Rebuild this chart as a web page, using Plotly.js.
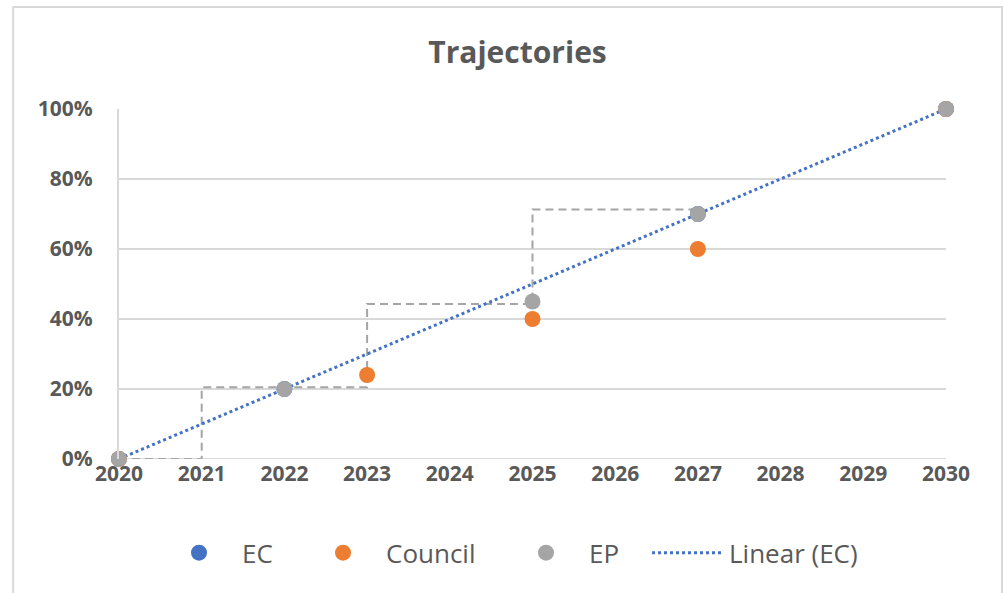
<!DOCTYPE html>
<html>
<head>
<meta charset="utf-8">
<script src="https://cdn.plot.ly/plotly-3.0.1.min.js"></script>
<style>html,body{margin:0;padding:0;background:#fff;}#chart{width:1005px;height:593px;}</style>
</head>
<body>
<div id="chart"></div>
<script>
const years = [2020,2021,2022,2023,2024,2025,2026,2027,2028,2029,2030];
const ecYears = [2020, 2022, 2027, 2030];
const ecValues = [0, 0.20, 0.70, 1.00];
const councilYears = [2020, 2023, 2025, 2027, 2030];
const councilValues = [0, 0.24, 0.40, 0.60, 1.00];
const epYears = [2020, 2022, 2025, 2027, 2030];
const epValues = [0, 0.20, 0.45, 0.70, 1.00];
const stepYears = [2020, 2021, 2021, 2023, 2023, 2025, 2025, 2027];
const stepValues = [0, 0, 0.205, 0.205, 0.443, 0.443, 0.713, 0.713];
const yTicks = [0, 0.2, 0.4, 0.6, 0.8, 1.0];

// linear least-squares trend of EC
const n = ecYears.length;
const mx = ecYears.reduce((a,b)=>a+b,0)/n;
const my = ecValues.reduce((a,b)=>a+b,0)/n;
let sxy=0, sxx=0;
for (let i=0;i<n;i++){ sxy += (ecYears[i]-mx)*(ecValues[i]-my); sxx += (ecYears[i]-mx)**2; }
const slope = sxy/sxx, icpt = my - slope*mx;
const trendX = [years[0], years[years.length-1]];
const trendY = trendX.map(x => icpt + slope*x);

const font = '"Open Sans", "Liberation Sans", sans-serif';
const grey = '#595959';

const traces = [
  {x: stepYears, y: stepValues, mode:'lines', line:{color:'#a5a5a5', width:2, dash:'8px,5px'}, showlegend:false, hoverinfo:'skip', cliponaxis:false},
  {x: trendX, y: trendY, mode:'lines', name:'Linear (EC)', line:{color:'#4472c4', width:3, dash:'dot'}, legend:'legend4', cliponaxis:false},
  {x: ecYears, y: ecValues, mode:'markers', name:'EC', marker:{color:'#4472c4', size:16}, legend:'legend', cliponaxis:false},
  {x: councilYears, y: councilValues, mode:'markers', name:'Council', marker:{color:'#ed7d31', size:16}, legend:'legend2', cliponaxis:false},
  {x: epYears, y: epValues, mode:'markers', name:'EP', marker:{color:'#a5a5a5', size:16}, legend:'legend3', cliponaxis:false}
];

const legFont = {size:26, color:grey, family:font};
function leg(px, iw){ return {orientation:'h', x:(px-119)/827, xanchor:'left', y:-0.268, yanchor:'middle', font:legFont, bgcolor:'rgba(0,0,0,0)', itemwidth:iw}; }

const layout = {
  width:1005, height:593,
  margin:{l:119, r:59, t:109, b:134},
  paper_bgcolor:'#fff', plot_bgcolor:'#fff',
  font:{family:font, color:grey},
  title:{text:'<b>Trajectories</b>', x:0.515, xref:'container', y:0.912, yref:'container', yanchor:'middle', font:{size:30, color:grey, family:font}},
  xaxis:{range:[2020,2030], tickvals:years, ticktext:years.map(String), showgrid:false, zeroline:false, showline:false,
         tickfont:{size:21, color:grey, family:font, weight:'bold'}, ticks:'', ticklabelstandoff:0, fixedrange:true},
  yaxis:{range:[0,1], tickvals:yTicks, ticktext:yTicks.map(v=>Math.round(v*100)+'%'), showgrid:true, gridcolor:'#d9d9d9', gridwidth:2,
         zeroline:false, showline:true, linecolor:'#d9d9d9', linewidth:2,
         tickfont:{size:21, color:grey, family:font, weight:'bold'}, ticks:'', ticklabelstandoff:20, fixedrange:true},
  legend:leg(156, 76),
  legend2:leg(300, 76),
  legend3:leg(503, 76),
  legend4:leg(647, 72),
  shapes:[{type:'rect', xref:'paper', yref:'paper', x0:-0.128, x1:1.0677, y0:-0.5, y1:1.2917, line:{color:'#d9d9d9', width:2}, fillcolor:'rgba(0,0,0,0)', layer:'below'},
          {type:'line', xref:'paper', yref:'y', x0:0, x1:1, y0:0, y1:0, line:{color:'#d9d9d9', width:2}, layer:'below'}],
  showlegend:true
};
Plotly.newPlot('chart', traces, layout, {displayModeBar:false, staticPlot:true});
</script>
</body>
</html>
